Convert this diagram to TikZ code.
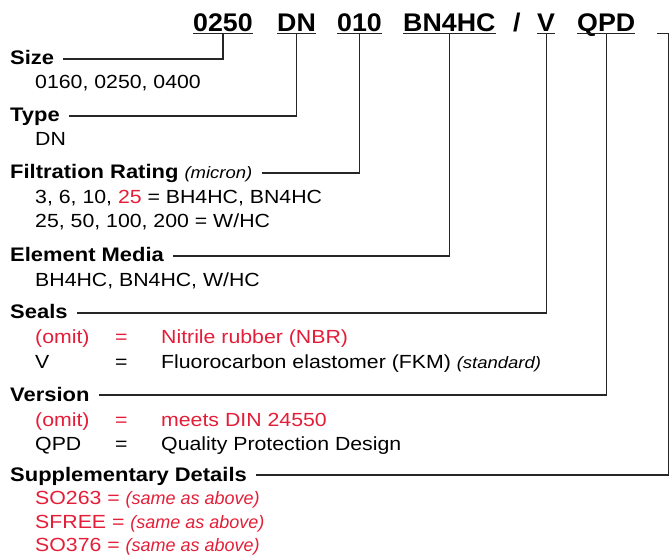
\documentclass[tikz,border=0pt]{standalone}
\usepackage{fontspec}
\setmainfont{Liberation Sans}[FakeStretch=1.12]
\newfontfamily\codefont{Liberation Sans}[FakeStretch=1.05]
\newfontfamily\plainfont{Liberation Sans}
\usetikzlibrary{positioning}

\definecolor{optred}{RGB}{228,30,56}
\newcommand{\smit}[1]{{\fontsize{16.5}{18}\selectfont\mdseries\itshape #1}}
\newcommand{\sameit}[1]{{\plainfont\fontsize{18}{20}\selectfont\itshape #1}}
\newcommand{\optrow}[2]{\makebox[80pt][l]{#1}\makebox[46pt][l]{=}#2}

\tikzset{
  head/.style={anchor=base west, inner sep=0pt, font=\fontsize{19.6}{22}\selectfont\bfseries},
  body/.style={anchor=base west, inner sep=0pt, font=\fontsize{19}{22}\selectfont},
  code/.style={anchor=base west, inner sep=0pt, text depth=1.8pt, font=\codefont\fontsize{25.5}{28}\selectfont\bfseries},
  conn/.style={line width=1.2pt, black!85},
}

\begin{document}
\begin{tikzpicture}[x=1pt, y=-1pt]
  \useasboundingbox (0,0) rectangle (670,556);

  % order code
  \node[code] (cSize) at (193,31.7) {0250};
  \node[code] (cType) at (277,31.7) {DN};
  \node[code] (cRate) at (337,31.7) {010};
  \node[code] (cMedia) at (403,31.7) {BN4HC};
  \node[code] (cSlash) at (513,31.7) {/};
  \node[code] (cSeal) at (537,31.7) {V};
  \node[code] (cVers) at (577,31.7) {QPD};
  \coordinate (extL) at (657,33.5);
  \coordinate (extR) at (668.5,33.5);
  \foreach \n in {cSize,cType,cRate,cMedia,cSeal,cVers}
    \draw[conn] (\n.south west) -- (\n.south east);

  % headings and options
  \node[head] (hSize) at (10,65) {Size};
  \node[body] (oSize) at (35,89) {0160, 0250, 0400};

  \node[head] (hType) at (10,122) {Type};
  \node[body] (oType) at (35,146) {DN};

  \node[head] (hRate) at (10,179) {Filtration Rating \smit{(micron)}};
  \node[body] (oRate1) at (35,204) {3, 6, 10, \textcolor{optred}{25} = BH4HC, BN4HC};
  \node[body] (oRate2) at (35,228) {25, 50, 100, 200 = W/HC};

  \node[head] (hMedia) at (10,262) {Element Media};
  \node[body] (oMedia) at (35,287) {BH4HC, BN4HC, W/HC};

  \node[head] (hSeal) at (10,319) {Seals};
  \node[body, text=optred] (oSeal1) at (35,344) {\optrow{(omit)}{Nitrile rubber (NBR)}};
  \node[body] (oSeal2) at (35,368) {\optrow{V}{Fluorocarbon elastomer (FKM) \smit{(standard)}}};

  \node[head] (hVers) at (10,401) {Version};
  \node[body, text=optred] (oVers1) at (35,426) {\optrow{(omit)}{meets DIN 24550}};
  \node[body] (oVers2) at (35,450) {\optrow{QPD}{Quality Protection Design}};

  \node[head] (hSupp) at (10,481) {Supplementary Details};
  \node[body, text=optred] (oSupp1) at (35,504) {SO263 = \sameit{(same as above)}};
  \node[body, text=optred] (oSupp2) at (35,528) {SFREE = \sameit{(same as above)}};
  \node[body, text=optred] (oSupp3) at (35,551) {SO376 = \sameit{(same as above)}};

  % connectors
  \draw[conn] (hSize.base east) ++(9,-6) -| (cSize.south);
  \draw[conn] (hType.base east) ++(9,-6) -| (cType.south);
  \draw[conn] (hRate.base east) ++(9,-6) -| (cRate.south);
  \draw[conn] (hMedia.base east) ++(9,-6) -| (cMedia.south);
  \draw[conn] (hSeal.base east) ++(9,-6) -| (cSeal.south);
  \draw[conn] (hVers.base east) ++(9,-6) -| (cVers.south);
  \draw[conn] (hSupp.base east) ++(9,-6) -| (extR) -- (extL);
\end{tikzpicture}
\end{document}
